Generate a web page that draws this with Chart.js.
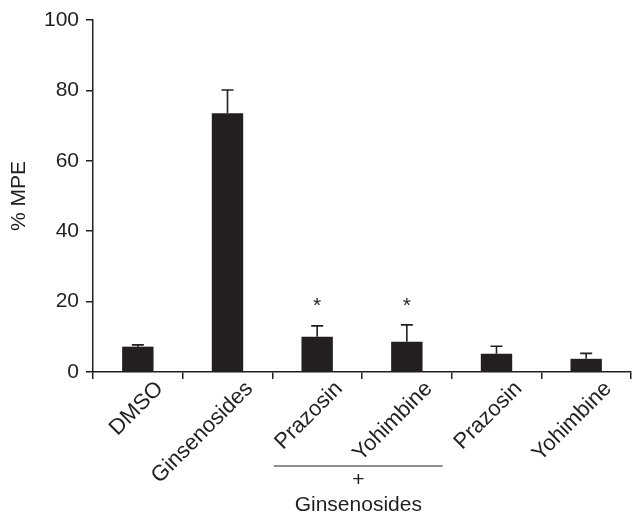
<!DOCTYPE html>
<html>
<head>
<meta charset="utf-8">
<script src="https://cdn.jsdelivr.net/npm/chart.js@4.4.1/dist/chart.umd.min.js"></script>
<style>
  html, body { margin: 0; padding: 0; background: #fff; }
  #wrap { width: 632px; height: 515px; position: relative; }
</style>
</head>
<body>
<div id="wrap"><canvas id="c" width="632" height="515"></canvas></div>
<script>
// ---- data ----
const categories = ['DMSO', 'Ginsenosides', 'Prazosin', 'Yohimbine', 'Prazosin', 'Yohimbine'];
const meanValues = [7.2, 73.5, 10.0, 8.6, 5.2, 3.75];
const errorValues = [0.5, 6.6, 3.1, 4.8, 2.1, 1.55];
const significance = ['', '', '*', '*', '', ''];
const yTicks = [0, 20, 40, 60, 80, 100];
const groupLabelTop = '+';
const groupLabelBottom = 'Ginsenosides';
const groupedCategories = [2, 3];

const INK = '#231f20';
const FONT = '"Liberation Sans", Arial, Helvetica, sans-serif';
const FS = 21;

const errorBarPlugin = {
  id: 'errorBars',
  afterDatasetsDraw(chart) {
    const ctx = chart.ctx;
    const meta = chart.getDatasetMeta(0);
    const y = chart.scales.y;
    ctx.save();
    ctx.strokeStyle = INK;
    ctx.lineWidth = 1.6;
    meta.data.forEach((bar, i) => {
      const top = y.getPixelForValue(meanValues[i] + errorValues[i]);
      const base = y.getPixelForValue(meanValues[i]);
      ctx.beginPath();
      ctx.moveTo(bar.x, base);
      ctx.lineTo(bar.x, top);
      ctx.moveTo(bar.x - 6, top);
      ctx.lineTo(bar.x + 6, top);
      ctx.stroke();
      if (significance[i]) {
        ctx.fillStyle = INK;
        ctx.font = FS + 'px ' + FONT;
        ctx.textAlign = 'center';
        ctx.textBaseline = 'alphabetic';
        ctx.fillText(significance[i], bar.x, y.getPixelForValue(20) + 0.5 * FS);
      }
    });
    ctx.restore();
  }
};

const groupPlugin = {
  id: 'groupBracket',
  afterDraw(chart) {
    const ctx = chart.ctx;
    const x = chart.scales.x;
    const bottom = chart.chartArea.bottom;
    const x0 = x.getPixelForValue(groupedCategories[0] - 0.483);
    const x1 = x.getPixelForValue(groupedCategories[1] + 0.4);
    const cx = (x0 + x1) / 2;
    ctx.save();
    ctx.strokeStyle = INK;
    ctx.lineWidth = 1.2;
    ctx.beginPath();
    ctx.moveTo(x0, bottom + 94);
    ctx.lineTo(x1, bottom + 94);
    ctx.stroke();
    ctx.fillStyle = INK;
    ctx.font = FS + 'px ' + FONT;
    ctx.textAlign = 'center';
    ctx.textBaseline = 'middle';
    ctx.fillText(groupLabelTop, cx, bottom + 108);
    ctx.fillText(groupLabelBottom, cx, bottom + 133);
    ctx.restore();
  }
};

new Chart(document.getElementById('c'), {
  type: 'bar',
  data: {
    labels: categories,
    datasets: [{
      data: meanValues,
      backgroundColor: INK,
      borderWidth: 0,
      barPercentage: 0.35,
      categoryPercentage: 1.0
    }]
  },
  options: {
    responsive: false,
    animation: false,
    devicePixelRatio: 1,
    layout: { padding: { top: 20, right: 1, left: 0, bottom: 0 } },
    plugins: { legend: { display: false }, tooltip: { enabled: false } },
    scales: {
      x: {
        afterFit(scale) { scale.height = 143; },
        grid: { drawOnChartArea: false, color: INK, lineWidth: 1.5, tickLength: 7, offset: true },
        border: { color: INK, width: 1.5 },
        ticks: {
          color: INK,
          font: { family: FONT, size: 22 },
          maxRotation: 45, minRotation: 45,
          labelOffset: 22,
          padding: -3,
          autoSkip: false
        }
      },
      y: {
        min: 0, max: 100,
        afterFit(scale) { scale.width = 93; },
        afterBuildTicks(scale) { scale.ticks = yTicks.map(v => ({ value: v })); },
        grid: { drawOnChartArea: false, color: INK, lineWidth: 1.5, tickLength: 7 },
        border: { color: INK, width: 1.5 },
        title: {
          display: true, text: '% MPE', color: INK,
          font: { family: FONT, size: FS },
          padding: { top: 7, bottom: 0 }
        },
        ticks: {
          color: INK,
          font: { family: FONT, size: FS },
          padding: 7
        }
      }
    }
  },
  plugins: [errorBarPlugin, groupPlugin]
});
</script>
</body>
</html>
